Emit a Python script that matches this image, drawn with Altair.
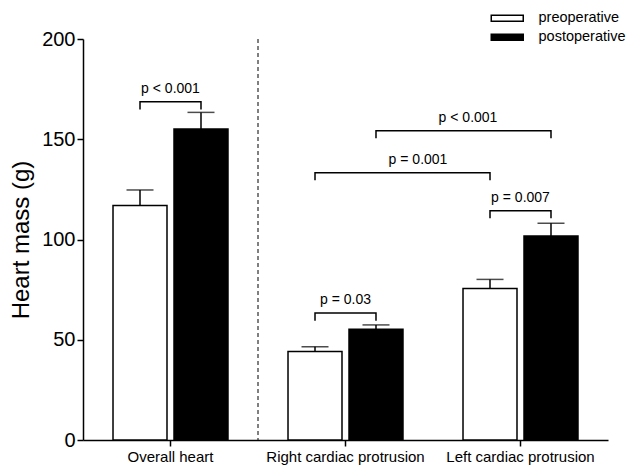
import altair as alt
import pandas as pd

categories = ["Overall heart", "Right cardiac protrusion", "Left cardiac protrusion"]
groups = ["preoperative", "postoperative"]
pre_mean = [116.9, 44.1, 75.5]
pre_upper = [124.7, 46.5, 80.1]
post_mean = [155.1, 55.2, 101.8]
post_upper = [163.4, 57.4, 108.1]
y_ticks = [0, 50, 100, 150, 200]

# significance brackets
br_labels = ["p < 0.001", "p = 0.03", "p = 0.007", "p = 0.001", "p < 0.001"]
br_from_cat = ["Overall heart", "Right cardiac protrusion", "Left cardiac protrusion",
               "Right cardiac protrusion", "Right cardiac protrusion"]
br_from_grp = ["preoperative", "preoperative", "preoperative", "preoperative", "postoperative"]
br_to_cat = ["Overall heart", "Right cardiac protrusion", "Left cardiac protrusion",
             "Left cardiac protrusion", "Left cardiac protrusion"]
br_to_grp = ["postoperative", "postoperative", "postoperative", "preoperative", "postoperative"]
br_top = [168.7, 63.3, 114.4, 133.3, 154.3]
br_leg = 3.8

FONT = "Liberation Sans"

rows = []
for i, c in enumerate(categories):
    rows.append({"cat": c, "grp": groups[0], "mean": pre_mean[i], "upper": pre_upper[i]})
    rows.append({"cat": c, "grp": groups[1], "mean": post_mean[i], "upper": post_upper[i]})
bars_df = pd.DataFrame(rows)

brow = []
for k in range(len(br_labels)):
    pts = [(br_from_cat[k], br_from_grp[k], br_top[k] - br_leg),
           (br_from_cat[k], br_from_grp[k], br_top[k]),
           (br_to_cat[k], br_to_grp[k], br_top[k]),
           (br_to_cat[k], br_to_grp[k], br_top[k] - br_leg)]
    for s, (c, g, v) in enumerate(pts):
        brow.append({"id": k, "seq": s, "cat": c, "grp": g, "y": v})
br_df = pd.DataFrame(brow)

within = [k for k in range(len(br_labels)) if br_from_cat[k] == br_to_cat[k]]
txt_within = pd.DataFrame({"label": [br_labels[k] for k in within],
                           "cat": [br_from_cat[k] for k in within],
                           "y": [br_top[k] for k in within]})
txt_a = pd.DataFrame({"label": [br_labels[3]], "cat": [categories[1]], "y": [br_top[3]]})
txt_b = pd.DataFrame({"label": [br_labels[4]], "cat": [categories[1]], "y": [br_top[4]]})

xenc = alt.X("cat:N", sort=categories,
             scale=alt.Scale(domain=categories, paddingInner=0, paddingOuter=0),
             axis=alt.Axis(title=None, labelAngle=0, labelFontSize=15, labelPadding=3,
                           tickSize=6, labelFont=FONT))
xoff = alt.XOffset("grp:N", sort=groups,
                   scale=alt.Scale(domain=groups, paddingInner=0.1148, paddingOuter=0.492))
yscale = alt.Scale(domain=[0, 200], nice=False)
yenc = alt.Y("mean:Q", scale=yscale,
             axis=alt.Axis(title="Heart mass (g)", values=y_ticks, tickSize=6,
                           labelFontSize=20, titleFontSize=24, titleFontWeight="normal",
                           titlePadding=8, labelPadding=2, grid=False,
                           labelFont=FONT, titleFont=FONT))

legend = alt.Legend(title=None, orient="none", legendX=401, legendY=-28,
                    symbolType="M-3.2,-0.6H3.2V0.6H-3.2Z", symbolSize=100,
                    symbolStrokeColor="black", symbolStrokeWidth=1.5,
                    symbolOffset=16, labelOffset=24, labelFontSize=14.5, labelFont=FONT,
                    rowPadding=4, padding=0)

bars = alt.Chart(bars_df).mark_bar(stroke="black", strokeWidth=1.5).encode(
    x=xenc, xOffset=xoff, y=yenc,
    fill=alt.Fill("grp:N", sort=groups,
                  scale=alt.Scale(domain=groups, range=["white", "black"]), legend=legend),
)

err = alt.Chart(bars_df).mark_rule(color="black", strokeWidth=1.5).encode(
    x=xenc, xOffset=xoff, y=alt.Y("mean:Q", scale=yscale), y2="upper:Q")

cap = alt.Chart(bars_df).mark_tick(color="black", orient="horizontal", size=27,
                                   thickness=1.5).encode(
    x=xenc, xOffset=xoff, y=alt.Y("upper:Q", scale=yscale))

brackets = alt.Chart(br_df).mark_line(color="black", strokeWidth=1.5).encode(
    x=xenc, xOffset=xoff, y=alt.Y("y:Q", scale=yscale), detail="id:N", order="seq:Q")

tw = alt.Chart(txt_within).mark_text(font=FONT, fontSize=14, baseline="alphabetic",
                                     dy=-9, color="black").encode(
    x=xenc, y=alt.Y("y:Q", scale=yscale), text="label:N")

ta = alt.Chart(txt_a).mark_text(font=FONT, fontSize=14, baseline="alphabetic",
                                dy=-9, dx=-15, color="black").encode(
    x=alt.X("cat:N", sort=categories, bandPosition=1), y=alt.Y("y:Q", scale=yscale),
    text="label:N")

tb = alt.Chart(txt_b).mark_text(font=FONT, fontSize=14, baseline="alphabetic",
                                dy=-9, dx=35, color="black").encode(
    x=alt.X("cat:N", sort=categories, bandPosition=1), y=alt.Y("y:Q", scale=yscale),
    text="label:N")

divider = alt.Chart(pd.DataFrame({"cat": [categories[1]]})).mark_rule(
    color="black", strokeWidth=1, strokeDash=[4, 3]).encode(
    x=alt.X("cat:N", sort=categories, bandPosition=0))

chart = alt.layer(bars, err, cap, brackets, tw, ta, tb, divider).properties(
    width=525, height=401,
    autosize=alt.AutoSizeParams(type="none"),
    padding={"left": 75, "top": 31, "right": 22, "bottom": 27},
).configure_view(stroke=None).configure_axis(
    domainColor="black", tickColor="black", labelColor="black", titleColor="black",
    domainWidth=1.5, tickWidth=1.5,
).configure_legend(labelColor="black")

chart.save("out.html", embed_options={"renderer": "svg", "actions": False})
